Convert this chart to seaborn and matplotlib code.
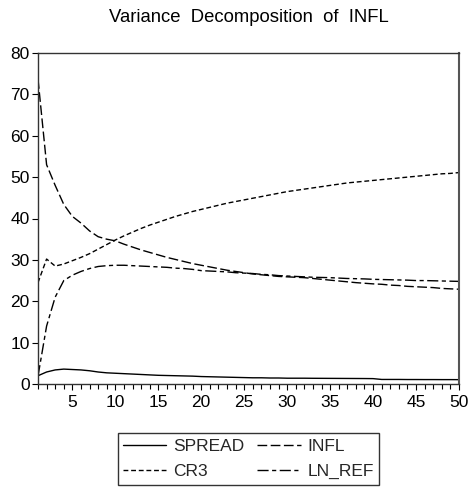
import numpy as np
import pandas as pd
import matplotlib
matplotlib.use("Agg")
import matplotlib.pyplot as plt
import seaborn as sns
from matplotlib.ticker import MultipleLocator, FixedLocator
from matplotlib.lines import Line2D

periods = list(range(1, 51))

spread = [2.0, 2.9, 3.4, 3.6, 3.5, 3.4, 3.2, 2.9, 2.7, 2.6,
          2.5, 2.4, 2.3, 2.2, 2.1, 2.05, 2.0, 1.95, 1.9, 1.8,
          1.75, 1.7, 1.65, 1.6, 1.55, 1.5, 1.5, 1.45, 1.45, 1.4,
          1.4, 1.4, 1.38, 1.37, 1.36, 1.35, 1.34, 1.33, 1.32, 1.3,
          1.1, 1.1, 1.1, 1.08, 1.08, 1.07, 1.07, 1.06, 1.06, 1.05]

infl = [73.7, 53.0, 48.0, 43.4, 40.5, 38.9, 37.0, 35.6, 35.0, 34.6,
        33.8, 33.1, 32.4, 31.8, 31.2, 30.6, 30.1, 29.6, 29.1, 28.7,
        28.3, 27.9, 27.5, 27.2, 26.9, 26.6, 26.4, 26.2, 26.0, 25.9,
        25.8, 25.7, 25.5, 25.3, 25.1, 24.9, 24.7, 24.5, 24.35, 24.2,
        24.1, 23.9, 23.8, 23.6, 23.5, 23.4, 23.3, 23.1, 23.0, 22.9]

cr3 = [24.5, 30.2, 28.5, 29.0, 29.8, 30.6, 31.5, 32.6, 33.7, 34.8,
       35.8, 36.7, 37.6, 38.4, 39.1, 39.8, 40.5, 41.1, 41.7, 42.2,
       42.7, 43.2, 43.7, 44.1, 44.5, 44.9, 45.3, 45.7, 46.1, 46.5,
       46.8, 47.1, 47.4, 47.7, 48.0, 48.3, 48.6, 48.8, 49.0, 49.2,
       49.4, 49.6, 49.8, 50.0, 50.2, 50.4, 50.6, 50.8, 50.9, 51.1]

ln_ref = [1.9, 14.0, 21.0, 25.0, 26.3, 27.2, 27.9, 28.4, 28.6, 28.7,
          28.7, 28.6, 28.5, 28.4, 28.3, 28.2, 28.0, 27.9, 27.7, 27.4,
          27.3, 27.2, 27.1, 26.9, 26.8, 26.7, 26.5, 26.4, 26.2, 26.1,
          26.0, 25.9, 25.8, 25.75, 25.7, 25.6, 25.5, 25.45, 25.4, 25.3,
          25.25, 25.2, 25.15, 25.1, 25.0, 25.0, 24.95, 24.9, 24.85, 24.8]

series_names = ["SPREAD", "INFL", "CR3", "LN_REF"]
series_values = [spread, infl, cr3, ln_ref]

df = pd.DataFrame({"period": periods})
for n, v in zip(series_names, series_values):
    df[n] = v
long = df.melt(id_vars="period", var_name="series", value_name="value")

sns.set_theme(style="white")
plt.rcParams["font.family"] = ["Liberation Sans", "DejaVu Sans"]

fig = plt.figure(figsize=(4.71, 4.87), dpi=100)
ax = fig.add_axes([38/471, 1-384/487, (459-38)/471, (384-53)/487])

dashes = {
    "SPREAD": "",
    "INFL": (7, 2.5),
    "CR3": (3.5, 2),
    "LN_REF": (8, 2.5, 3, 2.5),
}
palette = {n: "black" for n in series_names}
sns.lineplot(data=long, x="period", y="value", hue="series", style="series",
             hue_order=series_names, style_order=series_names,
             palette=palette, dashes=dashes, linewidth=1.0, ax=ax, legend=False)

ax.set_xlim(1, 50)
ax.set_ylim(0, 80)
ax.xaxis.set_major_locator(FixedLocator([5, 10, 15, 20, 25, 30, 35, 40, 45, 50]))
ax.xaxis.set_minor_locator(MultipleLocator(1))
ax.yaxis.set_major_locator(MultipleLocator(10))
ax.tick_params(axis="both", which="major", direction="out", length=4, width=0.8,
               color="black", labelsize=12.5, pad=2, bottom=True, left=True,
               labelcolor="black")
ax.tick_params(axis="x", which="major", pad=4)
ax.tick_params(axis="x", which="minor", direction="out", length=3.5, width=0.8,
               color="black", bottom=True)
ax.set_xlabel("")
ax.set_ylabel("")
for s in ax.spines.values():
    s.set_visible(True)
    s.set_color("#333333")
    s.set_linewidth(1.0)
ax.spines["right"].set_color("#555555")
ax.spines["right"].set_linewidth(1.5)

fig.text(248.5/471, 1-17/487, "Variance  Decomposition  of  INFL",
         ha="center", va="center", fontsize=13.3, color="black")

order = ["SPREAD", "CR3", "INFL", "LN_REF"]
handles = []
for n in order:
    d = dashes[n]
    if d == "":
        h = Line2D([], [], color="black", linewidth=1.0, linestyle="-")
    else:
        h = Line2D([], [], color="black", linewidth=1.0, linestyle=(0, d))
    handles.append(h)
leg = fig.legend(handles, order, ncol=2, loc="center",
                 bbox_to_anchor=(248.5/471, 1-459/487),
                 frameon=True, fancybox=False, edgecolor="black",
                 fontsize=12.5, handlelength=2.5, handletextpad=0.4,
                 columnspacing=0.75, labelspacing=0.6, borderpad=0.3)
leg.get_frame().set_linewidth(1.0)

fig.savefig("out.png", dpi=100, facecolor="white")
